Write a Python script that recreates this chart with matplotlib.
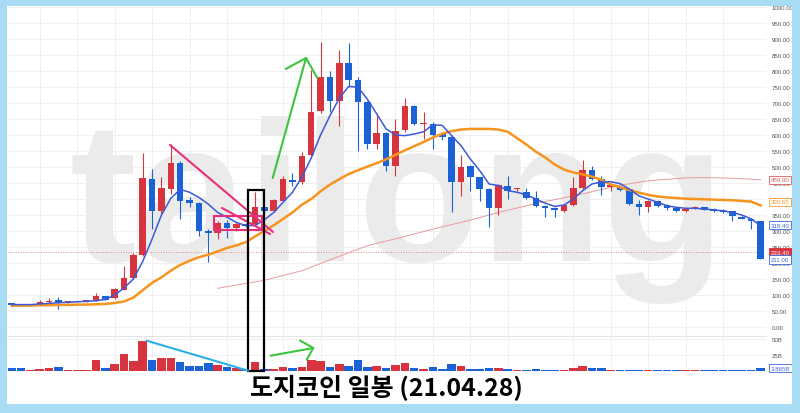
import numpy as np
import matplotlib
matplotlib.use("Agg")
import matplotlib.pyplot as plt
from matplotlib.patches import Rectangle
from matplotlib.lines import Line2D
from matplotlib.transforms import blended_transform_factory

# ---------------- data ----------------
opens = [75, 69, 67, 72, 77, 84, 77, 78, 80, 83,
         96, 91, 117, 153, 225, 463, 363, 431, 513, 397,
         387, 299, 293, 325, 308, 322, 322, 374, 363, 395,
         460, 452, 537, 674, 780, 707, 824, 772, 702, 572,
         605, 502, 616, 692, 634, 634, 603, 593, 452, 502,
         468, 431, 372, 442, 430, 423, 402, 379, 372, 363,
         381, 434, 491, 463, 437, 438, 431, 384, 374, 395,
         381, 372, 362, 370, 374, 369, 367, 362, 345, 338,
         330]
closes = [68, 67, 68, 79, 82, 76, 78, 79, 82, 98,
          85, 119, 153, 225, 466, 363, 433, 511, 395, 388,
          301, 293, 324, 308, 323, 317, 374, 363, 397, 463,
          452, 535, 673, 780, 707, 824, 773, 702, 572, 605,
          502, 614, 692, 634, 637, 601, 593, 452, 501, 468,
          431, 372, 444, 424, 432, 402, 379, 373, 367, 381,
          435, 491, 463, 437, 443, 429, 384, 376, 395, 379,
          371, 362, 369, 375, 367, 362, 359, 346, 338, 332,
          211]
highs = [76, 70, 69, 85, 90, 93, 80, 81, 84, 106,
         98, 121, 190, 232, 544, 494, 468, 572, 520, 405,
         392, 305, 330, 333, 328, 326, 421, 378, 400, 473,
         481, 546, 802, 890, 801, 867, 888, 780, 705, 666,
         610, 650, 715, 695, 671, 640, 608, 600, 537, 505,
         470, 433, 446, 471, 434, 433, 426, 381, 374, 383,
         468, 523, 504, 473, 450, 440, 433, 398, 397, 397,
         383, 374, 371, 377, 376, 371, 369, 364, 347, 340,
         332]
lows = [67, 66, 66, 70, 75, 56, 76, 77, 79, 82,
        84, 89, 115, 150, 222, 306, 353, 416, 338, 375,
        285, 202, 275, 277, 300, 312, 318, 360, 360, 392,
        442, 448, 533, 670, 671, 629, 749, 551, 556, 556,
        489, 473, 610, 630, 587, 556, 585, 358, 410, 426,
        395, 313, 350, 400, 425, 400, 375, 343, 345, 360,
        378, 430, 460, 413, 425, 426, 380, 351, 358, 376,
        365, 358, 360, 368, 365, 358, 357, 332, 336, 306,
        211]
volumes = [3.6, 3.6, 1, 2.6, 4.2, 5.2, 1, 1, 1, 16.7,
           3.6, 10.4, 26, 15.6, 45.8, 17.2, 19.3, 19.3, 13.5, 6.8,
           7.8, 11.5, 8.3, 5.2, 3.6, 1, 13, 2, 2.6, 5.2,
           3.6, 5.2, 17.2, 15.6, 5.7, 10.4, 7.8, 16.7, 6.3, 7.8,
           4.2, 8.9, 11.5, 3.6, 3.1, 5.2, 2.6, 10.4, 7.3, 3.1,
           2.6, 4.2, 4.2, 3.1, 1.6, 1, 2.6, 1, 1, 1,
           3.6, 7.8, 4.2, 4.2, 1, 0.5, 0.5, 1.6, 1.6, 1,
           1, 0.5, 0.5, 1, 0.5, 1, 0.5, 1, 0.5, 0.5,
           3.865]
ma_short = [70, 70, 70, 72, 74, 76, 77, 79, 80, 82,
            86, 100, 122, 150, 205, 275, 350, 402, 430, 421,
            405, 384, 358, 343, 327, 317, 317, 335, 358, 390,
            421, 468, 528, 600, 660, 715, 752, 749, 712, 666,
            619, 600, 598, 603, 610, 632, 630, 598, 567, 525,
            489, 447, 442, 426, 421, 413, 400, 387, 377, 381,
            400, 426, 447, 453, 454, 448, 431, 410, 400, 390,
            379, 374, 371, 371, 369, 366, 363, 358, 350, 338,
            317]
ma_mid = [67, 67, 67, 68, 68, 69, 69, 70, 70, 71,
          72, 75, 80, 92, 115, 138, 155, 176, 194, 207,
          218, 226, 236, 247, 255, 265, 283, 300, 318, 338,
          358, 382, 400, 424, 445, 462, 478, 490, 501, 512,
          524, 538, 552, 565, 578, 592, 604, 612, 617, 619,
          619, 619, 617, 610, 590, 570, 548, 530, 508, 492,
          483, 477, 470, 460, 445, 437, 428, 420, 413, 408,
          405, 403, 401, 400, 399, 398, 397, 396, 394, 392,
          380]
ma_long_idx = [23, 28, 32, 35, 39, 43, 46, 50, 53, 57, 62, 66, 69, 73, 75, 78, 81]
ma_long = [121, 146, 176, 210, 254, 283, 306, 334, 358, 386, 416, 443, 457, 466, 467, 465, 460]
grid_idx = [4, 8, 12, 16, 20, 24, 30, 34, 38, 42, 46, 50, 54, 61, 65, 69, 73, 77]
price_ticks = list(range(0, 1001, 50))
vol_ticks = [25, 50]
vol_tick_labels = ['25B', '50B']
current_price = 233.40
right_labels = [(459.90, '459.90', '#e25c5c', False),
                (390.65, '390.65', '#f29a2e', False),
                (318.40, '318.40', '#3a66d8', False),
                (233.40, '233.40', '#d8343f', True),
                (211.00, '211.00', '#3a66d8', False)]
last_volume_label = '3.865B'
title = '도지코인 일봉 (21.04.28)'
watermark = 'tailong'

# ---------------- styling ----------------
W, H = 800, 414
RED = '#d8343f'
BLUE = '#1b62d6'
BORDER = '#a8dcf4'
GRID = '#f0f0f0'

def fx(p):
    return p / W

def fy(p):
    return 1 - p / H

fig = plt.figure(figsize=(8, 4.14), dpi=100)
fig.patch.set_facecolor('white')

left, right = 8, 766
ax = fig.add_axes([fx(left), fy(337), fx(right) - fx(left), fy(8) - fy(337)])
axv = fig.add_axes([fx(left), fy(373), fx(right) - fx(left), fy(337) - fy(373)], sharex=ax)

n = len(closes)
idx = np.arange(1, n + 1)
o = np.array(opens, float)
c = np.array(closes, float)
h = np.array(highs, float)
l = np.array(lows, float)
cols = np.where(c >= o, RED, BLUE)

for a in (ax, axv):
    a.set_facecolor('none')
    a.set_axisbelow(True)
    for s in a.spines.values():
        s.set_visible(False)
    a.yaxis.tick_right()
    a.tick_params(axis='y', length=0, pad=4, labelsize=4.4, labelcolor='#555555')
    a.tick_params(axis='x', length=0, labelbottom=False)
    a.set_xticks(grid_idx)
    a.grid(True, color=GRID, lw=0.7)
    for lab in a.get_yticklabels():
        lab.set_fontfamily('Liberation Sans')

ax.set_xlim(0.605, 81.59)
ax.set_ylim(-28.1, 1000)
ax.set_yticks(price_ticks)
ax.set_yticklabels([f'{v:.2f}' for v in price_ticks], family='Liberation Sans')

# watermark
ax.text(fx(70), fy(261), watermark, transform=fig.transFigure, fontsize=144,
        fontweight='bold', family='Liberation Sans', color='#ebebeb',
        ha='left', va='baseline', zorder=0.6)

# candles
ax.vlines(idx, l, h, colors=cols, lw=0.8, zorder=2)
ax.bar(idx, np.maximum(np.abs(c - o), 3), bottom=np.minimum(o, c), width=0.7,
       color=cols, zorder=3)

# moving averages
ax.plot(ma_long_idx, ma_long, color='#e89a9a', lw=0.7, zorder=1.5)
ax.plot(idx, ma_mid, color='#f7941d', lw=1.8, zorder=4)
ax.plot(idx, ma_short, color='#3a5ad8', lw=1.1, zorder=4)
ax.axhline(current_price, color='#e06666', lw=0.6, ls=(0, (1, 2)), zorder=1)

# volume
axv.bar(idx, volumes, width=0.92, color=cols, zorder=2)
axv.set_ylim(-2, 54.2)
axv.set_yticks(vol_ticks)
axv.set_yticklabels(vol_tick_labels, family='Liberation Sans')
axv.spines['top'].set_visible(True)
axv.spines['top'].set_color('#e4e4e4')
axv.spines['top'].set_linewidth(0.8)

# right side value labels
tr = blended_transform_factory(ax.transAxes, ax.transData)
for v, txt, col, filled in right_labels:
    ax.text(1.0066, v, txt, transform=tr, ha='left', va='center', fontsize=4.4,
            family='Liberation Sans', color='white' if filled else col,
            bbox=dict(boxstyle='square,pad=0.25', fc=col if filled else 'white',
                      ec=col, lw=0.6), zorder=6, clip_on=False)
trv = blended_transform_factory(axv.transAxes, axv.transData)
axv.text(1.0066, volumes[-1], last_volume_label, transform=trv, ha='left', va='center',
         fontsize=4.4, family='Liberation Sans', color='#3a66d8',
         bbox=dict(boxstyle='square,pad=0.25', fc='white', ec='#3a66d8', lw=0.6),
         zorder=6, clip_on=False)

# hand-drawn annotations (pixel positions on the image)
def poly(pts, color, lw=1.5):
    xs = [fx(p[0]) for p in pts]
    ys = [fy(p[1]) for p in pts]
    fig.add_artist(Line2D(xs, ys, color=color, lw=lw, transform=fig.transFigure,
                          zorder=50, solid_capstyle='round', solid_joinstyle='round'))

def box(x0, y0, x1, y1, color, lw=1.5):
    fig.add_artist(Rectangle((fx(x0), fy(y1)), (x1 - x0) / W, (y1 - y0) / H,
                             fill=False, ec=color, lw=lw, transform=fig.transFigure,
                             zorder=50))

PINK = '#e8307a'
GREEN = '#3ec43e'
poly([(170, 146), (273, 233)], PINK)
poly([(222, 209), (270, 235)], PINK)
box(214, 217, 262, 231, PINK)
box(247.5, 191, 263.5, 372, 'black', 1.6)
poly([(272.7, 179), (306, 59), (317.3, 79)], GREEN)
poly([(285.7, 70), (306, 59)], GREEN)
poly([(146.7, 341.7), (248.3, 371.7)], '#2ab0e8')
poly([(270.7, 356.7), (313.3, 349)], GREEN)
poly([(300, 341.5), (313.3, 349), (306.7, 360.7)], GREEN)

# title
fig.text(fx(386), fy(388), title, ha='center', va='center', fontsize=18,
         fontweight='bold', family=['Noto Sans CJK KR', 'DejaVu Sans'], color='black',
         zorder=60)

# light blue frame
for (x0, y0, w, hh) in [(0, 0, 7, 414), (792, 0, 8, 414), (0, 0, 800, 7), (0, 405, 800, 9)]:
    fig.add_artist(Rectangle((fx(x0), fy(y0 + hh)), w / W, hh / H, color=BORDER,
                             transform=fig.transFigure, zorder=100, lw=0))

fig.savefig('out.png', dpi=100)
